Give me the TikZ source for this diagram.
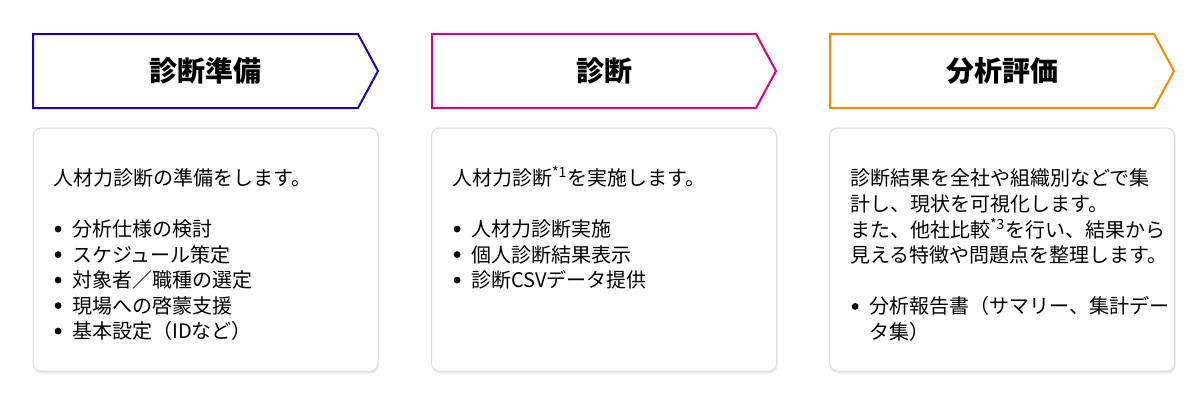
\documentclass[tikz,border=0pt]{standalone}
\usepackage{fontspec}
\setmainfont{Noto Sans CJK JP}
\usetikzlibrary{shadows}
\definecolor{cPrep}{RGB}{34,0,170}
\definecolor{cDiag}{RGB}{222,0,130}
\definecolor{cEval}{RGB}{255,136,0}
\definecolor{cCardLine}{RGB}{222,222,222}
\newcommand\cardbullet{\makebox[19pt][l]{\hspace{1.5pt}\tikz[x=1pt,y=1pt,baseline=0pt]\fill[black] (3.5,7.4) circle (3.4);}}
\newcommand\cardindent{\hspace{19pt}}
\begin{document}
\begin{tikzpicture}[x=1pt,y=-1pt,
  chevron/.style={line width=2pt, fill=white, line join=miter},
  title/.style={font=\bfseries\fontsize{28}{34}\selectfont, inner sep=0pt},
  card/.style={draw=cCardLine, line width=1pt, rounded corners=8pt, fill=white,
    minimum width=345pt, minimum height=243pt, inner sep=0pt,
    drop shadow={shadow xshift=1pt, shadow yshift=-2.5pt, opacity=0.16}},
  body/.style={font=\fontsize{20}{25.5}\selectfont, anchor=base west, inner sep=0pt}]
\fill[white] (0,0) rectangle (1200,400);
\useasboundingbox (0,0) rectangle (1200,400);

% header chevrons
\draw[chevron, draw=cPrep] (33,34) -- (358,34) -- (378,71) -- (358,108) -- (33,108) -- cycle;
\draw[chevron, draw=cDiag] (432,34) -- (756,34) -- (776,71) -- (756,108) -- (432,108) -- cycle;
\draw[chevron, draw=cEval] (830,34) -- (1154,34) -- (1174,71) -- (1154,108) -- (830,108) -- cycle;
\node[title] (t1) at (205.5,71) {診断準備};
\node[title] (t2) at (604,71) {診断};
\node[title] (t3) at (1002,71) {分析評価};

% cards
\node[card] (c1) at (205.5,249.5) {};
\node[card] (c2) at (604,249.5) {};
\node[card] (c3) at (1002,249.5) {};

\node[body] (p1) at (53,185.5) {\begin{tabular}[t]{@{}l@{}}
人材力診断の準備をします。\\
\\
\cardbullet 分析仕様の検討\\
\cardbullet スケジュール策定\\
\cardbullet 対象者／職種の選定\\
\cardbullet 現場への啓蒙支援\\
\cardbullet 基本設定（IDなど）
\end{tabular}};

\node[body] (p2) at (452,185.5) {\begin{tabular}[t]{@{}l@{}}
人材力診断\textsuperscript{*1}を実施します。\\
\\
\cardbullet 人材力診断実施\\
\cardbullet 個人診断結果表示\\
\cardbullet 診断CSVデータ提供
\end{tabular}};

\node[body] (p3) at (850,185.5) {\begin{tabular}[t]{@{}l@{}}
診断結果を全社や組織別などで集\\
計し、現状を可視化します。\\
また、他社比較\textsuperscript{*3}を行い、結果から\\
見える特徴や問題点を整理します。\\
\\
\cardbullet 分析報告書（サマリー、集計デー\\
\cardindent タ集）
\end{tabular}};
\end{tikzpicture}
\end{document}
